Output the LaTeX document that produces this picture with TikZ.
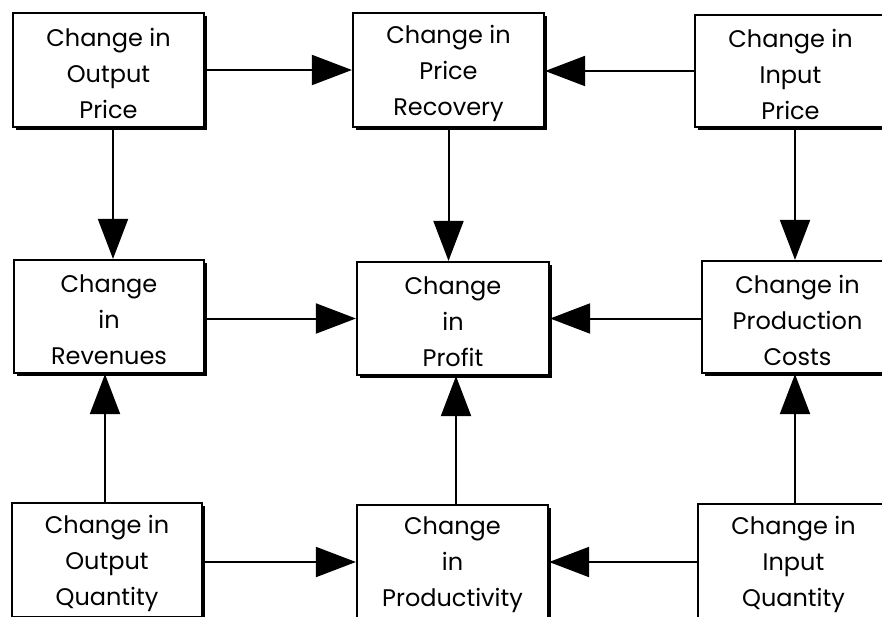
\documentclass[tikz,border=0pt]{standalone}
\usepackage{fontspec}
\setmainfont{Poppins}
\usetikzlibrary{arrows.meta,shadows}
\tikzset{
  box/.style={draw=black, line width=2.2pt, fill=white, inner sep=0pt,
    drop shadow={shadow xshift=3pt, shadow yshift=-3pt, opacity=1, fill=black}},
  txt/.style={align=center, inner sep=0pt, font=\fontsize{24}{36}\selectfont, yshift=-3pt},
  arr/.style={line width=2pt, -{Triangle[length=40pt,width=30pt]}}
}
\begin{document}
\begin{tikzpicture}[x=1pt,y=-1pt]
\useasboundingbox (0,0) rectangle (882,617);
\clip (0,0) rectangle (882,617);
% boxes
\node[box, minimum width=191pt, minimum height=114pt] (OP) at (108.5,70) {};
\node[box, minimum width=191pt, minimum height=114pt] (PR) at (448.5,70) {};
\node[box, minimum width=191pt, minimum height=112pt] (IP) at (790.5,71) {};
\node[box, minimum width=190pt, minimum height=113pt] (RV) at (109,316.5) {};
\node[box, minimum width=192pt, minimum height=113pt] (PF) at (453,318.5) {};
\node[box, minimum width=191pt, minimum height=112pt] (PC) at (797.5,317) {};
\node[box, minimum width=190pt, minimum height=114pt] (OQ) at (107,560) {};
\node[box, minimum width=191pt, minimum height=114pt] (PD) at (452.5,562) {};
\node[box, minimum width=191pt, minimum height=114pt] (IQ) at (793.5,561) {};
% texts
\node[txt] (tOP) at (OP) {Change in\\Output\\Price};
\node[txt] (tPR) at (PR) {Change in\\Price\\Recovery};
\node[txt] (tIP) at (IP) {Change in\\Input\\Price};
\node[txt] (tRV) at (RV) {Change\\in\\Revenues};
\node[txt] (tPF) at (PF) {Change\\in\\Profit};
\node[txt] (tPC) at (PC) {Change in\\Production\\Costs};
\node[txt] (tOQ) at (OQ) {Change in\\Output\\Quantity};
\node[txt] (tPD) at (PD) {Change\\in\\Productivity};
\node[txt] (tIQ) at (IQ) {Change in\\Input\\Quantity};
% horizontal arrows
\draw[arr] (OP.east) -- (OP.east -| PR.west);
\draw[arr] (IP.west) -- (IP.west -| PR.east);
\draw[arr] (RV.east |- PF.west) -- (PF.west);
\draw[arr] (PC.west |- PF.east) -- (PF.east);
\draw[arr] ([yshift=-2pt]OQ.east) -- ([yshift=-2pt]OQ.east -| PD.west);
\draw[arr] ([yshift=-1pt]IQ.west) -- ([yshift=-1pt]IQ.west -| PD.east);
% vertical arrows
\draw[arr] ([xshift=4.5pt]OP.south) -- ([xshift=4.5pt]OP.south |- RV.north);
\draw[arr] ([xshift=-2pt]OQ.north) -- ([xshift=-2pt]OQ.north |- RV.south);
\draw[arr] (PR.south) -- (PR.south |- PF.north);
\draw[arr] ([xshift=3.5pt]PD.north) -- ([xshift=3.5pt]PD.north |- PF.south);
\draw[arr] ([xshift=4.5pt]IP.south) -- ([xshift=4.5pt]IP.south |- PC.north);
\draw[arr] ([xshift=1.5pt]IQ.north) -- ([xshift=1.5pt]IQ.north |- PC.south);
\end{tikzpicture}
\end{document}
